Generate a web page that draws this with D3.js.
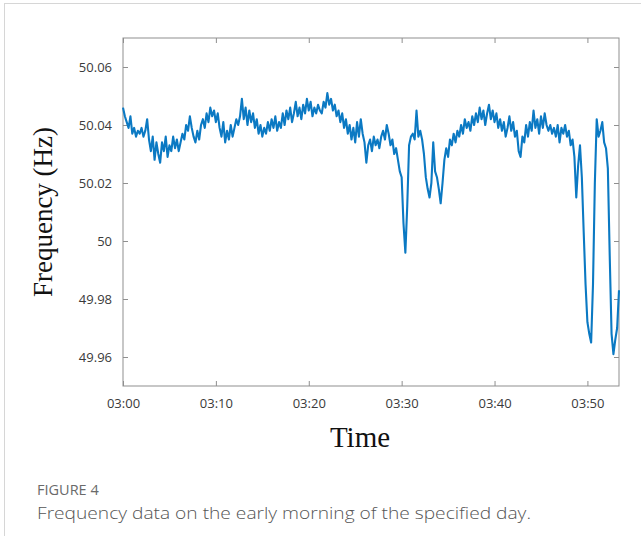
<!DOCTYPE html>
<html>
<head>
<meta charset="utf-8">
<script src="https://cdn.jsdelivr.net/npm/d3@7"></script>
<style>
  html, body { margin: 0; padding: 0; background: #fff; }
  svg { display: block; }
</style>
</head>
<body>
<svg id="chart" width="641" height="536"></svg>
<script>
// ---------------- data ----------------
const startTime = "03:00";          // first sample
const sampleStepSeconds = 12;       // one sample every 12 s
const frequencyHz = [
  50.046, 50.043, 50.041, 50.039, 50.043, 50.037, 50.039, 50.036, 50.038, 50.037,
  50.039, 50.036, 50.038, 50.042, 50.035, 50.031, 50.036, 50.028, 50.034, 50.030,
  50.027, 50.034, 50.031, 50.036, 50.029, 50.033, 50.031, 50.036, 50.032, 50.035,
  50.031, 50.034, 50.037, 50.035, 50.040, 50.038, 50.043, 50.039, 50.036, 50.034,
  50.038, 50.035, 50.040, 50.042, 50.039, 50.044, 50.041, 50.046, 50.043, 50.045,
  50.041, 50.044, 50.039, 50.036, 50.041, 50.034, 50.038, 50.035, 50.040, 50.036,
  50.039, 50.042, 50.040, 50.043, 50.049, 50.042, 50.046, 50.040, 50.045, 50.041,
  50.044, 50.039, 50.042, 50.037, 50.040, 50.036, 50.039, 50.037, 50.041, 50.038,
  50.042, 50.039, 50.043, 50.038, 50.041, 50.039, 50.044, 50.040, 50.045, 50.042,
  50.046, 50.041, 50.044, 50.048, 50.043, 50.046, 50.042, 50.047, 50.044, 50.049,
  50.045, 50.048, 50.043, 50.046, 50.044, 50.047, 50.045, 50.044, 50.048, 50.046,
  50.051, 50.047, 50.049, 50.045, 50.047, 50.043, 50.045, 50.041, 50.044, 50.039,
  50.042, 50.037, 50.040, 50.035, 50.039, 50.034, 50.041, 50.036, 50.042, 50.037,
  50.034, 50.027, 50.033, 50.035, 50.031, 50.036, 50.033, 50.035, 50.032, 50.036,
  50.038, 50.035, 50.040, 50.037, 50.033, 50.035, 50.030, 50.032, 50.028, 50.024,
  50.022, 50.006, 49.996, 50.012, 50.033, 50.036, 50.037, 50.035, 50.045, 50.036,
  50.038, 50.035, 50.030, 50.022, 50.018, 50.015, 50.020, 50.034, 50.024, 50.022,
  50.018, 50.013, 50.020, 50.028, 50.032, 50.029, 50.035, 50.033, 50.037, 50.034,
  50.038, 50.036, 50.040, 50.037, 50.042, 50.039, 50.041, 50.038, 50.043, 50.040,
  50.044, 50.041, 50.046, 50.042, 50.045, 50.040, 50.044, 50.047, 50.042, 50.045,
  50.041, 50.044, 50.039, 50.042, 50.038, 50.041, 50.036, 50.039, 50.043, 50.038,
  50.041, 50.036, 50.038, 50.031, 50.029, 50.036, 50.034, 50.040, 50.036, 50.041,
  50.038, 50.045, 50.039, 50.042, 50.037, 50.043, 50.039, 50.044, 50.040, 50.038,
  50.040, 50.037, 50.039, 50.036, 50.040, 50.034, 50.039, 50.037, 50.040, 50.036,
  50.038, 50.033, 50.035, 50.029, 50.015, 50.026, 50.033, 50.022, 50.003, 49.985,
  49.972, 49.968, 49.965, 49.985, 50.020, 50.042, 50.036, 50.038, 50.041, 50.034,
  50.032, 50.025, 49.995, 49.968, 49.961, 49.966, 49.970, 49.983
];
const yTicks = [49.96, 49.98, 50, 50.02, 50.04, 50.06];
const xTickLabels = ["03:00", "03:10", "03:20", "03:30", "03:40", "03:50"];
const yLabel = "Frequency (Hz)";
const xLabel = "Time";
const captionTitle = "FIGURE 4";
const captionText = "Frequency data on the early morning of the specified day.";

// ---------------- layout ----------------
const svg = d3.select("#chart");
const plot = { left: 123, right: 619, top: 38, bottom: 386 };
const frameColor = "#8f8f8f";
const lineColor = "#0b79c3";

const parse = d3.timeParse("%H:%M");
const t0 = parse(startTime);
const points = frequencyHz.map((v, i) => ({
  t: new Date(t0.getTime() + i * sampleStepSeconds * 1000),
  v
}));
const tEnd = new Date(t0.getTime() + 53.4 * 60 * 1000);

const x = d3.scaleTime().domain([t0, tEnd]).range([plot.left, plot.right]);
const y = d3.scaleLinear().domain([49.95, 50.07]).range([plot.bottom, plot.top]);
const xTicks = xTickLabels.map(parse);

// outer figure border
svg.append("rect")
  .attr("x", 4.5).attr("y", 3.5)
  .attr("width", 800).attr("height", 800)
  .attr("fill", "none").attr("stroke", "#d6d6d6").attr("stroke-width", 1);

// axes (ticks inward, MATLAB style)
const fmtY = d => String(+d.toFixed(2));
const fmtX = d3.timeFormat("%H:%M");

function styleAxis(g) {
  g.select(".domain").remove();
  g.selectAll(".tick line").attr("stroke", frameColor);
  g.selectAll(".tick text")
    .attr("fill", "#3a3a3a")
    .style("font-family", "'Open Sans', 'Noto Sans', sans-serif")
    .style("font-size", "13px");
}

svg.append("g")
  .attr("transform", `translate(${plot.left},0)`)
  .call(d3.axisLeft(y).tickValues(yTicks).tickFormat(fmtY).tickSize(-5).tickPadding(11))
  .call(styleAxis);

svg.append("g")
  .attr("transform", `translate(${plot.right},0)`)
  .call(d3.axisRight(y).tickValues(yTicks).tickFormat("").tickSize(-5))
  .call(styleAxis);

svg.append("g")
  .attr("transform", `translate(0,${plot.bottom})`)
  .call(d3.axisBottom(x).tickValues(xTicks).tickFormat(fmtX).tickSize(-5).tickPadding(13))
  .call(styleAxis);

svg.append("g")
  .attr("transform", `translate(0,${plot.top})`)
  .call(d3.axisTop(x).tickValues(xTicks).tickFormat("").tickSize(-5))
  .call(styleAxis);

// plot frame
svg.append("rect")
  .attr("x", plot.left).attr("y", plot.top)
  .attr("width", plot.right - plot.left).attr("height", plot.bottom - plot.top)
  .attr("fill", "none").attr("stroke", frameColor).attr("stroke-width", 1);

// line
const line = d3.line().x(d => x(d.t)).y(d => y(d.v));
svg.append("path")
  .datum(points)
  .attr("d", line)
  .attr("fill", "none")
  .attr("stroke", lineColor)
  .attr("stroke-width", 2.1)
  .attr("stroke-linejoin", "round");

// axis titles
svg.append("text")
  .attr("transform", "translate(52,212) rotate(-90)")
  .attr("text-anchor", "middle")
  .style("font-family", "'Liberation Serif', 'Times New Roman', serif")
  .style("font-size", "27px")
  .attr("fill", "#111")
  .text(yLabel);

svg.append("text")
  .attr("x", 360).attr("y", 447)
  .attr("text-anchor", "middle")
  .style("font-family", "'Liberation Serif', 'Times New Roman', serif")
  .style("font-size", "29px")
  .attr("fill", "#111")
  .text(xLabel);

// caption
svg.append("text")
  .attr("x", 37).attr("y", 495)
  .style("font-family", "'Open Sans', 'Noto Sans', sans-serif")
  .style("font-size", "14.5px")
  .style("font-weight", 500)
  .attr("fill", "#6a6a6a")
  .text(captionTitle);

svg.append("text")
  .attr("x", 37).attr("y", 519)
  .attr("textLength", 494)
  .attr("lengthAdjust", "spacingAndGlyphs")
  .style("font-family", "'Open Sans', 'Noto Sans', sans-serif")
  .style("font-size", "17px")
  .style("font-weight", 300)
  .attr("fill", "#555")
  .text(captionText);
</script>
</body>
</html>
